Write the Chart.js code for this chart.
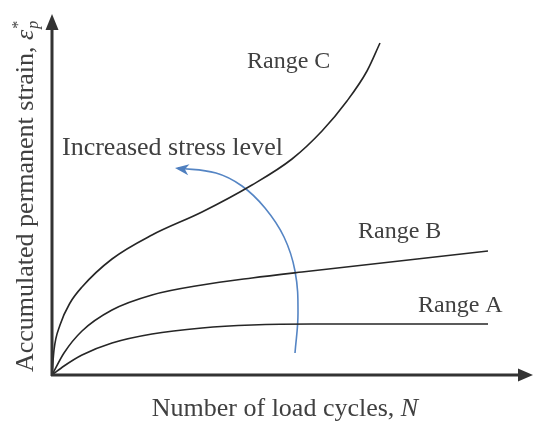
<!DOCTYPE html>
<html lang="en">
<head>
    <meta charset="UTF-8">
    <title>Accumulated permanent strain vs load cycles</title>
    <script src="https://cdn.jsdelivr.net/npm/chart.js"></script>
    <style>
        html, body {
            margin: 0;
            padding: 0;
            background: #fff;
        }
        #wrap {
            width: 533px;
            height: 425px;
        }
    </style>
</head>
<body>
    <div id="wrap"><canvas id="strainChart" width="533" height="425"></canvas></div>

    <script>
        // curves (x = load cycles, y = strain, arbitrary units)
        const cyclesA = [0, 12, 30, 60, 100, 150, 200, 260, 436];
        const strainA = [0, 9, 20, 32, 41, 47, 50, 51, 51];

        const cyclesB = [0, 12, 30, 60, 100, 150, 200, 250, 436];
        const strainB = [0, 22, 44, 65, 80, 90, 97, 103, 124];

        const cyclesC = [0, 2, 8, 18, 30, 60, 100, 150, 200, 240, 270, 295, 315, 328];
        const strainC = [0, 25, 50, 72, 88, 116, 140, 163, 190, 216, 244, 274, 304, 332];

        // blue arrow, from its tail to its tip
        const arrowX = [243, 246, 243, 232, 213, 190, 164, 126];
        const arrowY = [22, 62, 104, 138, 167, 189, 202, 207];

        const rangeNames = ['Range A', 'Range B', 'Range C'];
        const arrowText = 'Increased stress level';
        const xTitle = 'Number of load cycles, ';
        const yTitle = 'Accumulated permanent strain, ';

        function pts(xs, ys) {
            return xs.map((x, i) => ({ x: x, y: ys[i] }));
        }

        const SERIF = '"Liberation Serif", "Times New Roman", serif';
        const INK = '#404040';

        // where the notes sit, in data units (left edge, baseline)
        const notes = [
            { text: rangeNames[2], x: 195, y: 307, size: 24 },
            { text: arrowText, x: 10, y: 220, size: 26 },
            { text: rangeNames[1], x: 306, y: 137, size: 24 },
            { text: rangeNames[0], x: 366, y: 63, size: 24 }
        ];

        const sketchPlugin = {
            id: 'sketch',
            afterDraw(chart) {
                const ctx = chart.ctx;
                const xs = chart.scales.x;
                const ys = chart.scales.y;
                const ox = xs.getPixelForValue(0);
                const oy = ys.getPixelForValue(0);

                ctx.save();

                // axes with arrow heads
                ctx.strokeStyle = '#333';
                ctx.fillStyle = '#333';
                ctx.lineWidth = 3;
                ctx.beginPath();
                ctx.moveTo(ox, oy + 1);
                ctx.lineTo(ox, 26);
                ctx.moveTo(ox - 1, oy);
                ctx.lineTo(522, oy);
                ctx.stroke();

                ctx.beginPath();
                ctx.moveTo(ox, 14);
                ctx.lineTo(ox - 6.5, 30);
                ctx.lineTo(ox + 6.5, 30);
                ctx.closePath();
                ctx.fill();

                ctx.beginPath();
                ctx.moveTo(533, oy);
                ctx.lineTo(518, oy - 6.5);
                ctx.lineTo(518, oy + 6.5);
                ctx.closePath();
                ctx.fill();

                // arrow head on the blue curve
                const n = arrowX.length;
                const tx = xs.getPixelForValue(arrowX[n - 1]) - 3;
                const ty = ys.getPixelForValue(arrowY[n - 1]);
                const ang = Math.PI + 0.12;
                const back = ang + Math.PI;
                ctx.fillStyle = '#4f7fbf';
                ctx.beginPath();
                ctx.moveTo(tx, ty);
                ctx.lineTo(tx + 15 * Math.cos(back - 0.38), ty + 15 * Math.sin(back - 0.38));
                ctx.lineTo(tx + 10 * Math.cos(back), ty + 10 * Math.sin(back));
                ctx.lineTo(tx + 15 * Math.cos(back + 0.38), ty + 15 * Math.sin(back + 0.38));
                ctx.closePath();
                ctx.fill();

                // notes
                ctx.fillStyle = INK;
                ctx.textBaseline = 'alphabetic';
                ctx.textAlign = 'left';
                notes.forEach(nt => {
                    ctx.font = nt.size + 'px ' + SERIF;
                    ctx.fillText(nt.text, xs.getPixelForValue(nt.x), ys.getPixelForValue(nt.y));
                });

                // x title with italic N
                ctx.font = '26px ' + SERIF;
                const w1 = ctx.measureText(xTitle).width;
                ctx.font = 'italic 26px ' + SERIF;
                const w2 = ctx.measureText('N').width;
                let sx = 285 - (w1 + w2) / 2;
                ctx.font = '26px ' + SERIF;
                ctx.fillText(xTitle, sx, 416);
                ctx.font = 'italic 26px ' + SERIF;
                ctx.fillText('N', sx + w1, 416);

                // y title, rotated, with epsilon*_p
                ctx.translate(33, 372);
                ctx.rotate(-Math.PI / 2);
                ctx.font = '26px ' + SERIF;
                ctx.fillText(yTitle, 0, 0);
                let yx = ctx.measureText(yTitle).width;
                ctx.font = 'italic 26px ' + SERIF;
                ctx.fillText('\u03b5', yx, 0);
                yx += ctx.measureText('\u03b5').width + 1;
                ctx.font = '16px ' + SERIF;
                ctx.fillText('*', yx, -10);
                ctx.font = 'italic 16px ' + SERIF;
                ctx.fillText('p', yx, 5);

                ctx.restore();
            }
        };

        const curveStyle = {
            borderColor: '#262626',
            borderWidth: 1.6,
            pointRadius: 0,
            fill: false,
            clip: false,
            cubicInterpolationMode: 'monotone'
        };

        new Chart(document.getElementById('strainChart').getContext('2d'), {
            type: 'line',
            data: {
                datasets: [
                    Object.assign({ label: rangeNames[0], data: pts(cyclesA, strainA) }, curveStyle),
                    Object.assign({ label: rangeNames[1], data: pts(cyclesB, strainB) }, curveStyle),
                    Object.assign({ label: rangeNames[2], data: pts(cyclesC, strainC) }, curveStyle),
                    {
                        label: arrowText,
                        data: pts(arrowX, arrowY),
                        borderColor: '#5585c4',
                        borderWidth: 1.6,
                        pointRadius: 0,
                        fill: false,
                        clip: false,
                        tension: 0.4
                    }
                ]
            },
            options: {
                responsive: false,
                animation: false,
                layout: { padding: { left: 52, right: 1, top: 15, bottom: 50 } },
                plugins: {
                    legend: { display: false },
                    tooltip: { enabled: false }
                },
                scales: {
                    x: { type: 'linear', min: 0, max: 480, display: false },
                    y: { type: 'linear', min: 0, max: 360, display: false }
                }
            },
            plugins: [sketchPlugin]
        });
    </script>
</body>
</html>
